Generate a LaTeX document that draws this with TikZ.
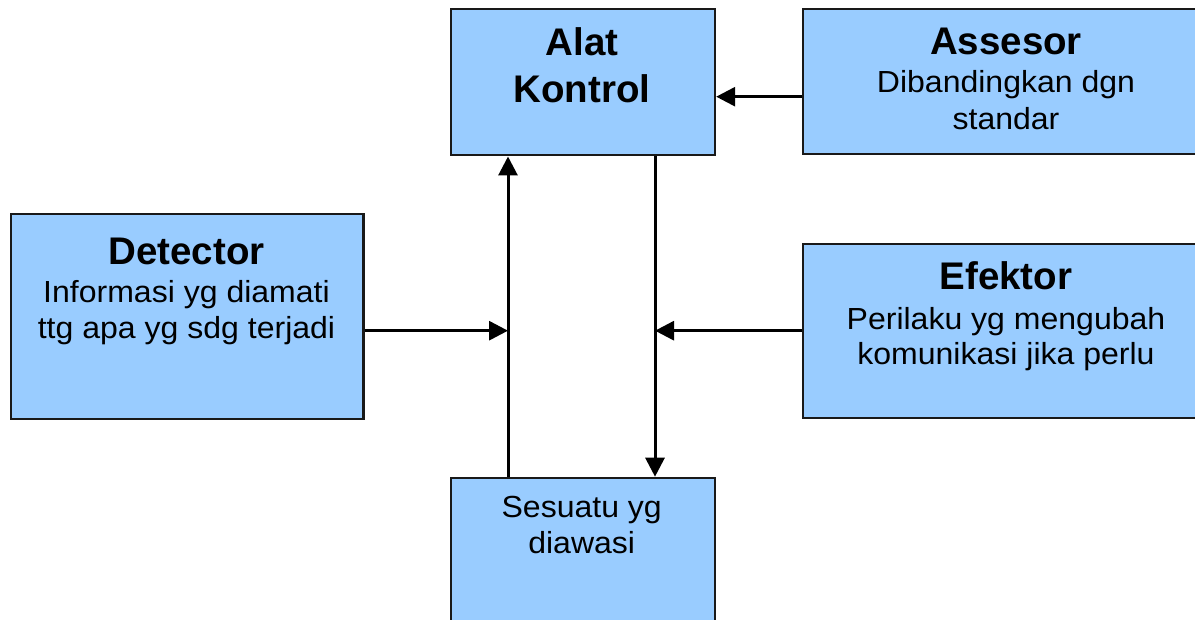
\documentclass[tikz,border=0pt]{standalone}
\usepackage{fontspec}
\setmainfont{Liberation Sans}
\newfontfamily\subfont[FakeStretch=1.05]{Liberation Sans}
\usetikzlibrary{arrows.meta}
\definecolor{boxblue}{HTML}{99CCFF}
\begin{document}
\begin{tikzpicture}[x=1pt,y=-1pt,
  box/.style={draw=black!90, line width=2.2pt, fill=boxblue, inner sep=0pt, anchor=north west},
  ttl/.style={inner sep=0pt, anchor=base, font=\fontsize{38.5}{46}\selectfont\bfseries},
  sub/.style={inner sep=0pt, anchor=base, font=\subfont\fontsize{30.5}{36}\selectfont},
  conn/.style={line width=3pt, -{Triangle[length=19pt,width=19pt]}}
]
\useasboundingbox (0,0) rectangle (1195,620);
\clip (0,0) rectangle (1195,620);
% boxes
\node[box, minimum width=264pt, minimum height=146pt] (alat) at (450,8.3) {};
\node[box, minimum width=408pt, minimum height=144.4pt] (assesor) at (801.7,8.3) {};
\node[box, minimum width=352.3pt, minimum height=205pt] (detector) at (10,213.3) {};
\node[box, minimum width=408pt, minimum height=174.3pt] (efektor) at (802,242.7) {};
\node[box, minimum width=264pt, minimum height=163.3pt] (sesuatu) at (450,476.7) {};
% helper coordinates
\coordinate (upx) at (508,0);
\coordinate (dnx) at (655,0);
\coordinate (hy) at (0,330.7);
\coordinate (ay) at (0,96.7);
% connectors
\draw[conn] (upx |- sesuatu.north) -- (upx |- alat.south);
\draw[conn] (dnx |- alat.south) -- (dnx |- sesuatu.north);
\draw[conn] (detector.east |- hy) -- (upx |- hy);
\draw[conn] (efektor.west |- hy) -- (dnx |- hy);
\draw[conn] (assesor.west |- ay) -- (alat.east |- ay);
% texts
\node[ttl] (alat1) at (582,56) {Alat};
\node[ttl] (alat2) at (582,102.7) {Kontrol};
\node[ttl] (ass1) at (1006,55) {Assesor};
\node[sub] (ass2) at (1006,92.5) {Dibandingkan dgn};
\node[sub] (ass3) at (1006,130) {standar};
\node[ttl] (det1) at (186.5,264.3) {Detector};
\node[sub] (det2) at (186.5,302.8) {Informasi yg diamati};
\node[sub] (det3) at (186.5,338.8) {ttg apa yg sdg terjadi};
\node[ttl] (efk1) at (1006,290) {Efektor};
\node[sub] (efk2) at (1006,329.5) {Perilaku yg mengubah};
\node[sub] (efk3) at (1006,364.5) {komunikasi jika perlu};
\node[sub] (ses1) at (581.7,517.8) {Sesuatu yg};
\node[sub] (ses2) at (581.7,553.2) {diawasi};
\end{tikzpicture}
\end{document}
